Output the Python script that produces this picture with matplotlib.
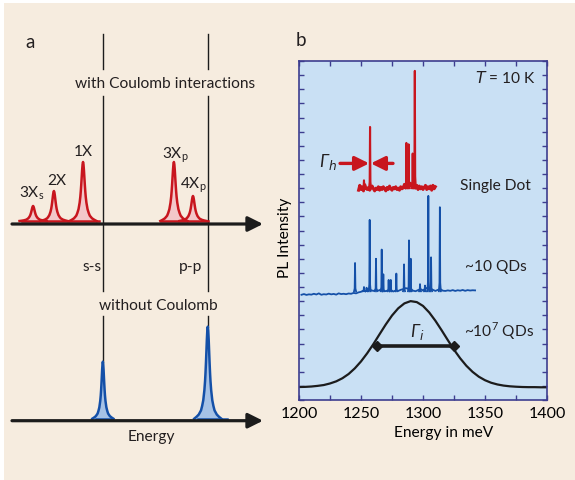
import matplotlib
matplotlib.use("Agg")
import matplotlib.pyplot as plt
import numpy as np
from matplotlib.patches import Rectangle
from matplotlib.ticker import MultipleLocator

plt.rcParams["font.family"] = ["Lato", "DejaVu Sans"]
plt.rcParams["text.color"] = "#231f20"

BEIGE = "#f6ecdf"
PANEL = "#c9e0f4"
NAVY = "#3d3d8f"
RED = "#c8161e"
PINK = "#f3c7ca"
BLUE = "#1450a8"
LBLUE = "#a6c2e6"
INK = "#1c1c1c"

# ---- panel a (schematic, energy in arbitrary units, arrow runs 0..100) ----
coul_labels = ["3X$_\\mathregular{s}$", "2X", "1X", "3X$_\\mathregular{p}$", "4X$_\\mathregular{p}$"]
coul_pos = [8.4, 16.7, 28.3, 64.5, 72.1]
coul_height = [1.5, 3.0, 5.9, 5.9, 2.5]
coul_spans = [(4.0, 34.7), (59.4, 78.1)]
free_labels = ["s-s", "p-p"]
free_pos = [36.2, 78.0]
free_height = [5.7, 9.2]
free_width = [0.7, 0.9]
free_spans = [(33.5, 39.8), (74.1, 85.7)]
# normalised line shape (offset in half widths, relative height)
shape_off = [-6, -5, -4, -3, -2.5, -2, -1.5, -1.2, -1, -0.8, -0.6, -0.4, -0.2, 0,
             0.2, 0.4, 0.6, 0.8, 1, 1.2, 1.5, 2, 2.5, 3, 4, 5, 6]
shape_val = [0, 0.02, 0.045, 0.09, 0.138, 0.2, 0.31, 0.41, 0.5, 0.61, 0.735, 0.862, 0.96, 1,
             0.96, 0.862, 0.735, 0.61, 0.5, 0.41, 0.31, 0.2, 0.138, 0.09, 0.045, 0.02, 0]

# ---- panel b ----
gauss_E = np.arange(1200, 1401, 5)
gauss_I = [0.92, 0.93, 0.955, 1.0, 1.06, 1.17, 1.32, 1.54, 1.84, 2.24, 2.73, 3.31, 3.96,
           4.66, 5.35, 5.98, 6.49, 6.84, 7.0, 6.93, 6.66, 6.2, 5.61, 4.94, 4.24, 3.56,
           2.95, 2.42, 1.99, 1.65, 1.4, 1.22, 1.1, 1.02, 0.97, 0.94, 0.92, 0.91, 0.91,
           0.9, 0.9]
fwhm_E = [1262.5, 1325.0]
fwhm_I = [3.8, 3.8]

blue_base = [7.45, 7.50, 7.44, 7.48, 7.46, 7.52, 7.47, 7.55, 7.45, 7.49, 7.47, 7.53,
             7.48, 7.51, 7.46, 7.55, 7.50, 7.52, 7.49, 7.54, 7.52, 7.58, 7.55, 7.62,
             7.66, 7.75, 7.70, 7.85, 7.78, 7.72, 7.80, 7.74, 7.82, 7.76, 7.70, 7.78,
             7.80, 7.68, 7.75, 7.72, 7.80, 7.85, 7.92, 7.88, 7.86, 7.74, 7.70, 7.78,
             7.85, 7.76, 7.90, 7.95, 7.88, 7.80, 7.72, 7.80, 7.85, 7.74, 7.72, 7.76,
             7.73, 7.78, 7.72, 7.77, 7.74, 7.79, 7.73, 7.78, 7.75, 7.77, 7.76]
blue_E0, blue_E1 = 1202, 1342
blue_peak_E = [1245.2, 1252.4, 1254.5, 1257.0, 1262.1, 1266.7, 1268.0, 1272.3, 1274.0,
               1278.5, 1284.7, 1288.7, 1290.1, 1297.6, 1301.6, 1304.3, 1306.5, 1313.6]
blue_peak_I = [9.7, 8.0, 7.95, 12.75, 10.0, 10.65, 8.9, 8.5, 8.5,
               8.95, 9.6, 11.3, 10.0, 8.2, 8.1, 14.45, 10.1, 13.65]

red_base = [14.85, 15.2, 14.9, 15.1, 14.8, 15.25, 15.0, 14.9, 15.05, 14.85, 15.0, 15.15,
            14.95, 14.8, 15.0, 14.9, 15.1, 14.85, 15.05, 14.9, 15.1, 14.95, 14.8, 15.05,
            14.9, 15.15, 14.95, 14.85, 15.05, 14.95, 15.1, 14.9, 15.0, 14.85, 15.1, 14.95,
            15.05, 15.25, 15.1, 15.3, 15.05, 15.2, 15.35, 15.1, 15.3, 15.15, 15.0, 15.2,
            14.9, 15.15, 14.95, 15.1, 14.9, 15.05, 15.2, 14.9, 15.1, 14.95, 15.15, 14.85,
            15.2, 14.95, 15.1]
red_E0, red_E1 = 1248, 1310
red_peak_E = [1252.4, 1257.3, 1285.0, 1286.6, 1288.4, 1291.7, 1293.4]
red_peak_I = [15.55, 19.33, 15.3, 18.2, 18.1, 17.45, 23.3]
spike_off = [-0.8, -0.3, 0, 0.3, 0.8]
spike_val = [0, 0.1, 1, 0.1, 0]

fig = plt.figure(figsize=(5.75, 4.81), dpi=100)
fig.patch.set_facecolor("white")
fig.add_artist(Rectangle((4 / 575, 0), 1, 477 / 481, transform=fig.transFigure,
                         facecolor=BEIGE, edgecolor="none", zorder=-10))

# ================= panel a =================
ax = fig.add_axes([0, 0, 290 / 575, 1])
ax.set_xlim(-4.78, 110.76)
ax.set_ylim(-5.93, 42.17)
ax.axis("off")

off = np.array(shape_off)
val = np.array(shape_val)
coul_base, coul_axis = 19.97, 19.67
free_base, free_axis = 0.2, 0.0

for a, b in coul_spans:
    ax.plot([a, b], [coul_base, coul_base], color=RED, lw=1.8, zorder=3)
for c, h in zip(coul_pos, coul_height):
    x = c + 0.9 * off
    y = coul_base + h * val
    ax.fill_between(x, coul_base, y, color=PINK, lw=0, zorder=2)
    ax.plot(x, y, color=RED, lw=1.8, zorder=3)

for a, b in free_spans:
    ax.plot([a, b], [free_base, free_base], color=BLUE, lw=1.8, zorder=3)
for c, h, w in zip(free_pos, free_height, free_width):
    x = c + w * off
    y = free_base + h * val
    ax.fill_between(x, free_base, y, color=LBLUE, lw=0, zorder=2)
    ax.plot(x, y, color=BLUE, lw=1.8, zorder=3)

for ya in (coul_axis, free_axis):
    ax.annotate("", xy=(100, ya), xytext=(0, ya),
                arrowprops=dict(arrowstyle="-|>,head_length=0.9,head_width=0.45",
                                lw=2.3, color=INK, mutation_scale=10,
                                shrinkA=0, shrinkB=0), zorder=4)

for c, h in zip(free_pos, free_height):
    for y0, y1 in [(38.67, 35.17), (32.47, 12.97), (10.47, free_base + h)]:
        ax.plot([c, c], [y0, y1], color=INK, lw=1.0, zorder=1)

fs = 11.2
for lab, x, y in zip(coul_labels, [8.0, 17.9, 28.3, 65.3, 72.1],
                     [22.87, 24.07, 26.97, 26.67, 23.67]):
    ax.text(x, y, lab, fontsize=fs, ha="center", va="center")
for lab, x in zip(free_labels, [31.9, 71.3]):
    ax.text(x, 15.47, lab, fontsize=fs, ha="center", va="center")
ax.text(61.0, 33.77, "with Coulomb interactions", fontsize=fs, ha="center", va="center")
ax.text(58.2, 11.57, "without Coulomb", fontsize=fs, ha="center", va="center")
ax.text(55.4, -1.53, "Energy", fontsize=fs, ha="center", va="center")
fig.text(30 / 575, 1 - 42 / 481, "a", fontsize=13.5, ha="center", va="center")

# ================= panel b =================
bx = fig.add_axes([299 / 575, 80 / 481, 248 / 575, 339 / 481])
bx.set_facecolor(PANEL)
bx.set_xlim(1200, 1400)
bx.set_ylim(0, 24)

bx.plot(gauss_E, gauss_I, color=INK, lw=1.6)
bx.plot(fwhm_E, fwhm_I, color=INK, lw=2.6, marker="D", ms=5)

bE = np.linspace(blue_E0, blue_E1, len(blue_base))
bx.plot(bE, blue_base, color=BLUE, lw=1.3)
for c, h in zip(blue_peak_E, blue_peak_I):
    bx.plot(c + np.array(spike_off), 7.7 + (h - 7.7) * np.array(spike_val), color=BLUE, lw=1.3)

rE = np.linspace(red_E0, red_E1, len(red_base))
bx.plot(rE, red_base, color=RED, lw=2.1)
for c, h in zip(red_peak_E, red_peak_I):
    bx.plot(c + np.array(spike_off), 15.0 + (h - 15.0) * np.array(spike_val), color=RED, lw=1.5)

arrow = dict(arrowstyle="-|>,head_length=0.85,head_width=0.42", lw=2.4, color=RED,
             mutation_scale=10, shrinkA=0, shrinkB=0)
bx.annotate("", xy=(1256.6, 16.75), xytext=(1233.1, 16.75), arrowprops=arrow)
bx.annotate("", xy=(1257.9, 16.75), xytext=(1275.8, 16.75), arrowprops=arrow)

bx.text(1231, 16.9, "Γ$_{h}$", fontsize=12.5, style="italic", ha="right", va="center")
bx.text(1295.2, 4.9, "Γ$_{i}$", fontsize=12.5, style="italic", ha="center", va="center")
bx.text(1391, 22.9, r"$\mathit{T}$ = 10 K", fontsize=fs, ha="right", va="center")
bx.text(1329.8, 15.25, "Single Dot", fontsize=fs, ha="left", va="center")
bx.text(1333.9, 9.5, "~10 QDs", fontsize=fs, ha="left", va="center")
bx.text(1333.0, 4.96, "~10$^\\mathregular{7}$ QDs", fontsize=fs, ha="left", va="center")

bx.xaxis.set_major_locator(MultipleLocator(50))
bx.xaxis.set_minor_locator(MultipleLocator(25))
bx.yaxis.set_major_locator(MultipleLocator(1))
bx.tick_params(which="both", direction="in", top=True, right=True, length=3.5,
               width=1.0, color=NAVY, labelsize=11.5, pad=4, labelleft=False)
for s in bx.spines.values():
    s.set_color(NAVY)
    s.set_linewidth(1.2)
bx.set_xlabel("Energy in meV", fontsize=fs)
bx.xaxis.set_label_coords(0.585, -0.074)
bx.set_ylabel("PL Intensity", fontsize=fs)
bx.yaxis.set_label_coords(-0.03, 0.48)
fig.text(301 / 575, 1 - 40 / 481, "b", fontsize=13.5, ha="center", va="center")

fig.savefig("out.png", dpi=100, facecolor=fig.get_facecolor())
